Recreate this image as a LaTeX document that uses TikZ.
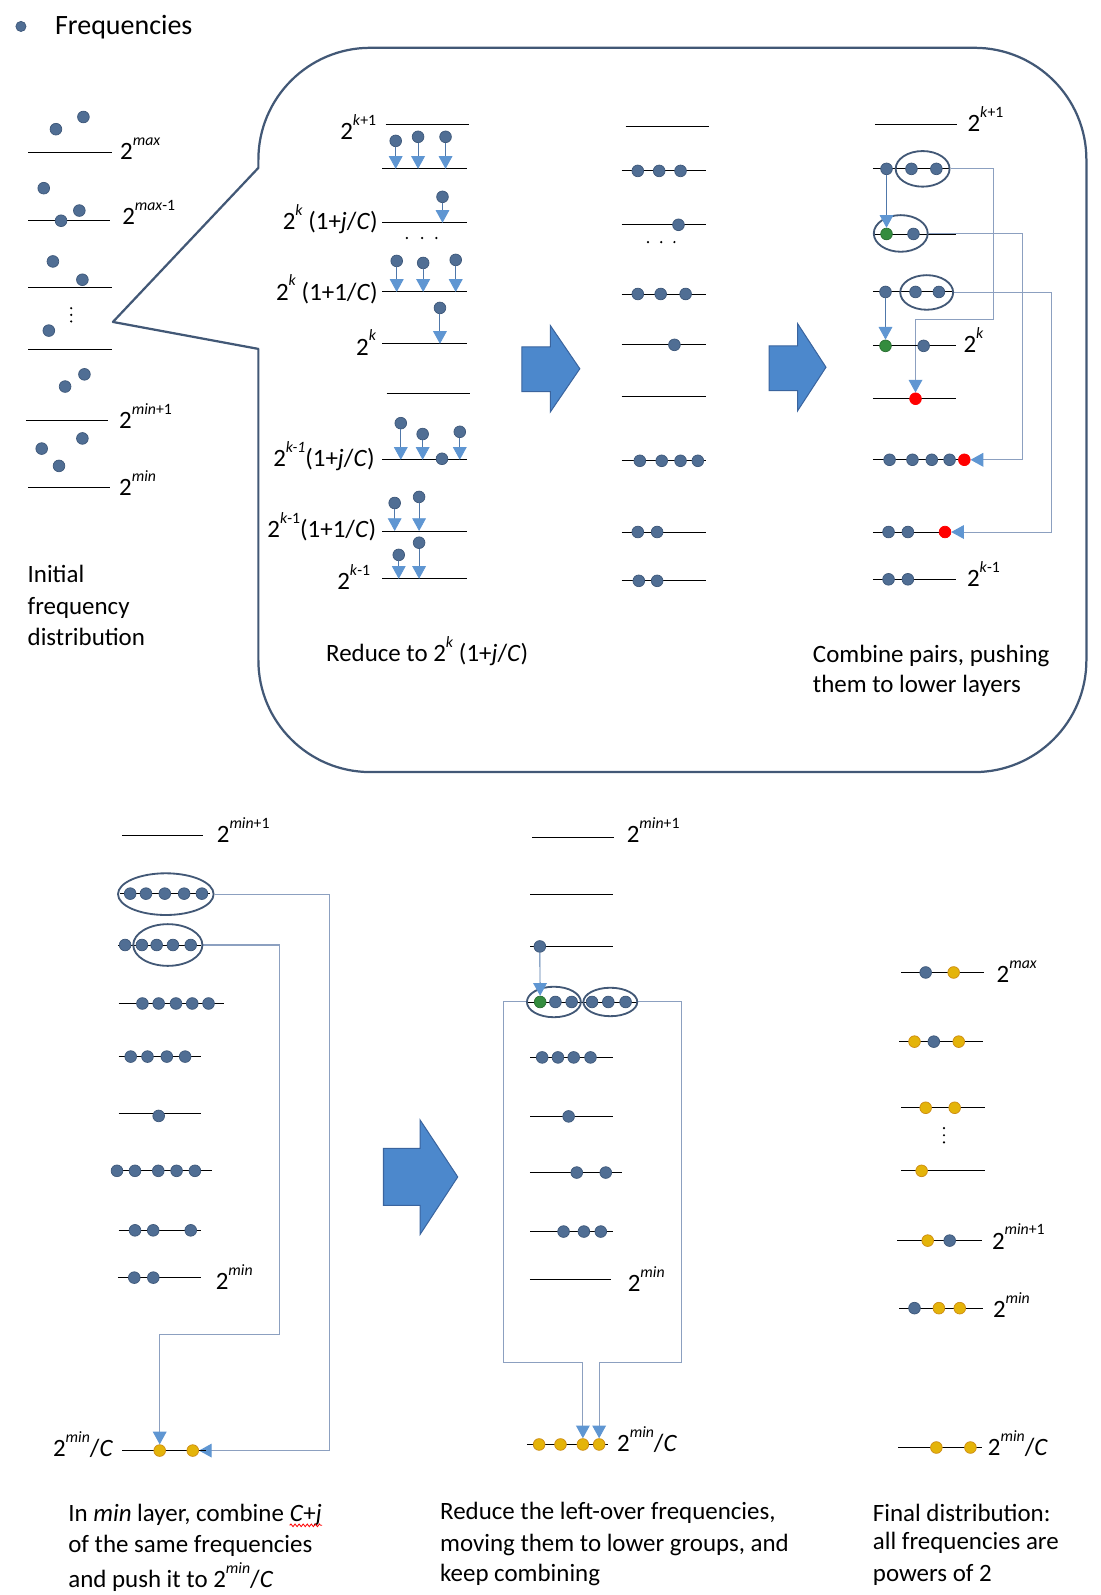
\documentclass[tikz,border=0pt]{standalone}
\usepackage{fontspec}
\setmainfont{Carlito}
\usetikzlibrary{arrows.meta,shapes.geometric,decorations.pathmorphing}
\pgfdeclarelayer{back}
\pgfsetlayers{back,main}
\definecolor{dotblue}{RGB}{80,110,148}
\definecolor{dotedge}{RGB}{62,88,122}
\definecolor{dotyel}{RGB}{228,180,10}
\definecolor{yeledge}{RGB}{205,140,20}
\definecolor{dotgreen}{RGB}{52,140,62}
\definecolor{calloutc}{RGB}{66,88,118}
\definecolor{ellc}{RGB}{66,88,118}
\definecolor{connc}{RGB}{140,160,192}
\definecolor{arrline}{RGB}{80,120,170}
\definecolor{arrfill}{RGB}{95,150,210}
\definecolor{bigfill}{RGB}{76,136,204}
\definecolor{bigedge}{RGB}{58,100,158}
\newcommand\sps[1]{\raisebox{14pt}{\fontsize{15.5}{16}\selectfont #1}}
\newcommand\pwr[1]{2\sps{#1}}
\begin{document}
\begin{tikzpicture}[x=1pt,y=-1pt,
 lvl/.style={draw=black,line width=0.9pt},
 bdot/.style={circle,fill=dotblue,draw=dotedge,line width=0.7pt,inner sep=0pt,minimum size=11.5pt},
 ydot/.style={bdot,fill=dotyel,draw=yeledge},
 gdot/.style={bdot,fill=dotgreen,draw=dotgreen!80!black},
 rdot/.style={bdot,fill=red,draw=red},
 bluetip/.style={-{Triangle[width=13.5pt,length=12.5pt,color=arrfill,fill=arrfill]}},
 varr/.style={draw=arrline,line width=0.9pt,bluetip},
 conn/.style={draw=connc,line width=1pt},
 carr/.style={conn,bluetip},
 ell/.style={ellipse,draw=ellc,line width=1.8pt,inner sep=0pt},
 txt/.style={inner sep=0pt,anchor=base west,font=\fontsize{24.5}{29}\selectfont},
 lbl/.style={inner sep=0pt,anchor=base east,font=\fontsize{24.5}{29}\selectfont},
 bigarr/.style={fill=bigfill,draw=bigedge,line width=1pt},
 vd/.style={circle,fill=black,inner sep=0pt,minimum size=2.4pt}
]
\useasboundingbox (0,0) rectangle (1082,1568);

% ---------- legend
\node[bdot,minimum size=10pt] (leg) at (20.6,26) {};
\node[txt,font=\fontsize{27.5}{32}\selectfont] (legt) at (54,34) {Frequencies};

% ---------- initial distribution
\foreach \y/\a/\b in {150/28/110,216.5/28/108,282.5/28/110,344/28/110,413/25.5/106.5,479/28/108}
  \draw[lvl] (\a,\y) -- (\b,\y);
\foreach \x/\y [count=\i] in {55/127,82/115,43/185,78/207,60/217,52/257,81/275,48/325,64/380,83/368,41/441,81/431,58/458}
  \node[bdot] (i\i) at (\x,\y) {};
\foreach \y [count=\i] in {303,309.5,316} \node[vd] (iv\i) at (70,\y) {};
\node[txt] (li1) at (118,157) {\pwr{\textit{max}}};
\node[txt] (li2) at (120,221) {\pwr{\textit{max}-1}};
\node[txt] (li3) at (117,421) {\pwr{\textit{min}+1}};
\node[txt] (li4) at (117,487) {\pwr{\textit{min}}};
\node[txt] (it1) at (27,573) {Initial};
\node[txt] (it2) at (27,604) {frequency};
\node[txt] (it3) at (27,635) {distribution};

% ---------- callout
\draw[draw=calloutc,line width=2.2pt,line join=round]
  (254,343) -- (254,649) .. controls (254,709.75) and (303.25,759) .. (364,759)
  -- (958,759) .. controls (1018.75,759) and (1068,709.75) .. (1068,649)
  -- (1068,157) .. controls (1068,96.25) and (1018.75,47) .. (958,47)
  -- (364,47) .. controls (303.25,47) and (254,96.25) .. (254,157)
  -- (254,165) -- (111,316.5) -- cycle;

% ---------- big arrows
\draw[bigarr] (513,341) -- (541,341) -- (541,320) -- (570,362.5) -- (541,405) -- (541,385) -- (513,385) -- cycle;
\draw[bigarr] (756,340) -- (784,340) -- (784,318) -- (812,361) -- (784,404) -- (784,384) -- (756,384) -- cycle;
\draw[bigarr] (377,1129) -- (413,1129) -- (413,1101) -- (450,1157) -- (413,1213.5) -- (413,1185) -- (377,1185) -- cycle;

% ---------- reduce column
\foreach \y/\a/\b in {122/379/461,166/376/459,219/376/459,287/376/459,338/376/459,387/380/462,452/376/459,522/376/459,569/376/459}
  \draw[lvl] (\a,\y) -- (\b,\y);
\coordinate (Ra) at (417,166);
\coordinate (Rb) at (417,219);
\coordinate (Rc) at (417,287);
\coordinate (Rd) at (417,338);
\coordinate (Re) at (417,452);
\coordinate (Rf) at (417,522);
\coordinate (Rg) at (417,569);
\foreach \x/\y [count=\i] in {389/138.5,411/134.5,438/134.5}
  {\node[bdot] (ra\i) at (\x,\y) {}; \draw[varr] (ra\i) -- (ra\i |- Ra);}
\node[bdot] (rb1) at (435,193.5) {}; \draw[varr] (rb1) -- (rb1 |- Rb);
\foreach \x [count=\i] in {400,415,429} \node[vd] (rh\i) at (\x,234) {};
\foreach \x/\y [count=\i] in {390/256.5,416/258.5,448/255.5}
  {\node[bdot] (rc\i) at (\x,\y) {}; \draw[varr] (rc\i) -- (rc\i |- Rc);}
\node[bdot] (rd1) at (432.5,302.7) {}; \draw[varr] (rd1) -- (rd1 |- Rd);
\foreach \x/\y [count=\i] in {394/416,415.5/426.7,452/424.5}
  {\node[bdot] (re\i) at (\x,\y) {}; \draw[varr] (re\i) -- (re\i |- Re);}
\node[bdot] (re4) at (434.5,451) {};
\foreach \x/\y [count=\i] in {388/494.5,412/488.5}
  {\node[bdot] (rf\i) at (\x,\y) {}; \draw[varr] (rf\i) -- (rf\i |- Rf);}
\foreach \x/\y [count=\i] in {392/545.5,412/533.5}
  {\node[bdot] (rg\i) at (\x,\y) {}; \draw[varr] (rg\i) -- (rg\i |- Rg);}
\node[lbl] (rl1) at (370,137.5) {\pwr{\textit{k}+1}};
\node[lbl] (rl2) at (371.5,226) {\pwr{\textit{k}} (1+\textit{j}/\textit{C})};
\node[lbl] (rl3) at (371.5,295) {\pwr{\textit{k}} (1+1/\textit{C})};
\node[lbl] (rl4) at (370,349) {\pwr{\textit{k}}};
\node[lbl] (rl5) at (368.5,459) {\pwr{\textit{k-1}}(1+\textit{j}/\textit{C})};
\node[lbl] (rl6) at (370,528.7) {\pwr{\textit{k}-1}(1+1/\textit{C})};
\node[lbl] (rl7) at (364,580) {\pwr{\textit{k}-1}};
\node[txt] (rt) at (320.5,650.6) {Reduce to \pwr{\textit{k}} (1+\textit{j}/\textit{C})};

% ---------- middle column
\draw[lvl] (615,124) -- (697,124);
\foreach \y in {168,221,289,339,390,453,523,571} \draw[lvl] (611,\y) -- (694,\y);
\foreach \x [count=\i] in {627,648,669} \node[bdot] (ma\i) at (\x,168) {};
\node[bdot] (mb1) at (667,221) {};
\foreach \x [count=\i] in {637,650,663} \node[vd] (mh\i) at (\x,238) {};
\foreach \x [count=\i] in {627,649.5,674} \node[bdot] (mc\i) at (\x,289) {};
\node[bdot] (md1) at (663,339) {};
\foreach \x [count=\i] in {629,650.5,669,686} \node[bdot] (me\i) at (\x,453) {};
\foreach \x [count=\i] in {627,646} \node[bdot] (mf\i) at (\x,523) {};
\foreach \x [count=\i] in {628,646} \node[bdot] (mg\i) at (\x,571) {};

% ---------- combine column
\draw[lvl] (860,122) -- (941,122);
\draw[lvl] (858,166) -- (933,166);
\draw[lvl] (858,230) -- (940,230);
\draw[lvl] (858,287) -- (937,287);
\draw[lvl] (858,340) -- (940,340);
\draw[lvl] (858,392) -- (940,392);
\draw[lvl] (858,452) -- (952,452);
\draw[lvl] (858,523) -- (933,523);
\draw[lvl] (858,569.5) -- (940,569.5);
\node[ell,minimum width=53pt,minimum height=35pt] (E1) at (907,166) {};
\node[ell,minimum width=53pt,minimum height=36pt] (E2) at (885.5,229.5) {};
\node[ell,minimum width=52pt,minimum height=34pt] (E3) at (911,287.5) {};
\foreach \x [count=\i] in {871.5,896,920.5} \node[bdot] (ca\i) at (\x,166) {};
\node[gdot] (cbg) at (871.5,230) {};
\node[bdot] (cb2) at (898,230) {};
\foreach \x [count=\i] in {870.5,900,923} \node[bdot] (cc\i) at (\x,287) {};
\node[gdot] (cdg) at (870.5,340) {};
\node[bdot] (cd2) at (908,340) {};
\node[rdot] (cr1) at (900,392) {};
\foreach \x [count=\i] in {874.5,897,916,933.5} \node[bdot] (ce\i) at (\x,452) {};
\node[rdot] (cr2) at (948,452) {};
\foreach \x [count=\i] in {873.5,892.5} \node[bdot] (cf\i) at (\x,523) {};
\node[rdot] (cr3) at (929,523) {};
\foreach \x [count=\i] in {873.5,892.5} \node[bdot] (cg\i) at (\x,569.5) {};
\draw[varr] (ca1) -- (cbg);
\draw[varr] (cc1) -- (cdg);
\coordinate (k1) at (977,314);
\coordinate (k2) at (1005.5,452);
\coordinate (k3) at (1034,523);
\node[txt] (cl1) at (951,129.4) {\pwr{\textit{k}+1}};
\node[txt] (cl2) at (947,347) {\pwr{\textit{k}}};
\node[txt] (cl3) at (950.5,576.5) {\pwr{\textit{k}-1}};
\node[txt] (ct1) at (799,651.5) {Combine pairs, pushing};
\node[txt] (ct2) at (799,681) {them to lower layers};

% ---------- bottom left
\draw[lvl] (120,821.5) -- (200,821.5);
\draw[lvl] (118,878.5) -- (206,878.5);
\draw[lvl] (116,929) -- (198,929);
\draw[lvl] (116.5,986.5) -- (220,986.5);
\draw[lvl] (116.5,1038.7) -- (198,1038.7);
\draw[lvl] (116.5,1095) -- (198,1095);
\draw[lvl] (111,1151) -- (208,1151);
\draw[lvl] (116.5,1209.5) -- (198,1209.5);
\draw[lvl] (116,1256) -- (198,1256);
\draw[lvl] (120,1426) -- (203,1426);
\node[ell,minimum width=94pt,minimum height=41pt] (BL1) at (163,879) {};
\node[ell,minimum width=68pt,minimum height=41pt] (BL2) at (165,929) {};
\foreach \x [count=\i] in {128,143.5,162,181,198.5} \node[bdot] (la\i) at (\x,878.5) {};
\foreach \x [count=\i] in {123,139.5,154,170,187.5} \node[bdot] (lb\i) at (\x,929) {};
\foreach \x [count=\i] in {140,156,173,189,205} \node[bdot] (lc\i) at (\x,986.5) {};
\foreach \x [count=\i] in {128.5,145,164,182} \node[bdot] (ld\i) at (\x,1038.7) {};
\node[bdot] (le1) at (156,1097) {};
\foreach \x [count=\i] in {115,132.7,155.6,173.6,191.6} \node[bdot] (lf\i) at (\x,1151) {};
\foreach \x [count=\i] in {132.7,150.6,187.5} \node[bdot] (lg\i) at (\x,1209.5) {};
\foreach \x [count=\i] in {132,150.7} \node[bdot] (lh\i) at (\x,1256) {};
\node[ydot] (ly1) at (157,1426) {};
\node[ydot] (ly2) at (189.5,1426) {};
\coordinate (bb1) at (323.7,1426);
\coordinate (bb2) at (274.6,1312);
\node[txt] (ll1) at (213,828.6) {\pwr{\textit{min}+1}};
\node[txt] (ll2) at (212,1267.7) {\pwr{\textit{min}}};
\node[txt] (ll3) at (52,1432) {\pwr{\textit{min}}/\textit{C}};
\node[txt] (lt1) at (67,1496) {In \textit{min} layer, combine};
\node[txt,xshift=5.5pt] (lt1b) at (lt1.base east) {\textit{C}+\textit{j}};
\draw[red,line width=0.8pt,decorate,decoration={snake,amplitude=1.3pt,segment length=4pt}]
  ([yshift=-3.5pt]lt1b.base west) -- ([yshift=-3.5pt]lt1b.base east);
\node[txt] (lt2) at (67,1526) {of the same frequencies};
\node[txt] (lt3) at (67,1561) {and push it to \pwr{\textit{min}}/\textit{C}};

% ---------- bottom middle
\draw[lvl] (523,823.6) -- (604,823.6);
\draw[lvl] (521.5,879.5) -- (603,879.5);
\draw[lvl] (521.5,930.4) -- (603,930.4);
\draw[lvl] (519,985) -- (626,985);
\draw[lvl] (521.5,1039.5) -- (602.6,1039.5);
\draw[lvl] (521.5,1097.5) -- (602.6,1097.5);
\draw[lvl] (521,1152.7) -- (611,1152.7);
\draw[lvl] (521.5,1210.7) -- (602.6,1210.7);
\draw[lvl] (521,1258) -- (601,1258);
\draw[lvl] (518,1420) -- (598,1420);
\node[ell,minimum width=53pt,minimum height=30pt] (BM1) at (544.5,985) {};
\node[ell,minimum width=53pt,minimum height=28pt] (BM2) at (600,985) {};
\node[bdot] (na1) at (530.7,930.4) {};
\node[gdot] (nbg) at (531,985) {};
\foreach \x [count=\i] in {546,562,582,598,615} \node[bdot] (nb\i) at (\x,985) {};
\foreach \x [count=\i] in {533,548.5,564,580.5} \node[bdot] (nc\i) at (\x,1039.5) {};
\node[bdot] (nd1) at (559,1097.5) {};
\foreach \x [count=\i] in {567,595.5} \node[bdot] (ne\i) at (\x,1152.7) {};
\foreach \x [count=\i] in {554,574,590.6} \node[bdot] (nf\i) at (\x,1210.7) {};
\foreach \x [count=\i] in {530,551,573,589} \node[ydot] (ny\i) at (\x,1420) {};
\draw[varr] (na1) -- (nbg);
\coordinate (mm1) at (495,1339);
\coordinate (mm2) at (670,1339);
\node[txt] (nl1) at (616,828.6) {\pwr{\textit{min}+1}};
\node[txt] (nl2) at (617,1269.5) {\pwr{\textit{min}}};
\node[txt] (nl3) at (606.5,1427) {\pwr{\textit{min}}/\textit{C}};
\node[txt] (nt1) at (432.5,1494) {Reduce the left-over frequencies,};
\node[txt] (nt2) at (432.5,1525) {moving them to lower groups, and};
\node[txt] (nt3) at (432.5,1554.5) {keep combining};

% ---------- bottom right (final)
\draw[lvl] (886,956) -- (967,956);
\draw[lvl] (884,1024) -- (966,1024);
\draw[lvl] (886,1089) -- (968,1089);
\draw[lvl] (886,1151) -- (968,1151);
\draw[lvl] (882,1219.6) -- (965,1219.6);
\draw[lvl] (884,1286) -- (966,1286);
\draw[lvl] (883,1423) -- (965,1423);
\node[bdot] (fa1) at (910,956) {};
\node[ydot] (fa2) at (937.5,956) {};
\node[ydot] (fb1) at (899,1024) {};
\node[bdot] (fb2) at (918,1024) {};
\node[ydot] (fb3) at (942.5,1024) {};
\node[ydot] (fc1) at (910,1089) {};
\node[ydot] (fc2) at (938.5,1089) {};
\foreach \y [count=\i] in {1109,1116,1123} \node[vd] (fv\i) at (928,\y) {};
\node[ydot] (fd1) at (906,1151) {};
\node[ydot] (fe1) at (912,1219.6) {};
\node[bdot] (fe2) at (933.6,1219.6) {};
\node[bdot] (ff1) at (899,1286) {};
\node[ydot] (ff2) at (923,1286) {};
\node[ydot] (ff3) at (943.5,1286) {};
\node[ydot] (fg1) at (920.5,1423) {};
\node[ydot] (fg2) at (954,1423) {};
\node[txt] (fl1) at (979.6,966) {\pwr{\textit{max}}};
\node[txt] (fl2) at (975,1228) {\pwr{\textit{min}+1}};
\node[txt] (fl3) at (976,1295) {\pwr{\textit{min}}};
\node[txt] (fl4) at (971,1431) {\pwr{\textit{min}}/\textit{C}};
\node[txt] (ft1) at (858,1495.6) {Final distribution:};
\node[txt] (ft2) at (858,1523) {all frequencies are};
\node[txt] (ft3) at (858,1554.5) {powers of 2};

% ---------- connectors (behind)
\begin{pgfonlayer}{back}
\draw[carr] (E1.east) -- (E1.east -| k1) -- (k1) -- (k1 -| cr1) -- (cr1);
\draw[carr] (E2.east) -- (E2.east -| k2) -- (k2) -- (cr2);
\draw[carr] (E3.east) -- (E3.east -| k3) -- (k3) -- (cr3);
\draw[carr] (BL1.east) -- (BL1.east -| bb1) -- (bb1) -- (ly2);
\draw[carr] (BL2.east) -- (BL2.east -| bb2) -- (bb2) -- (bb2 -| ly1) -- (ly1);
\draw[carr] (BM1.west) -- (BM1.west -| mm1) -- (mm1) -- (mm1 -| ny3) -- (ny3);
\draw[carr] (BM2.east) -- (BM2.east -| mm2) -- (mm2) -- (mm2 -| ny4) -- (ny4);
\end{pgfonlayer}
\end{tikzpicture}
\end{document}
